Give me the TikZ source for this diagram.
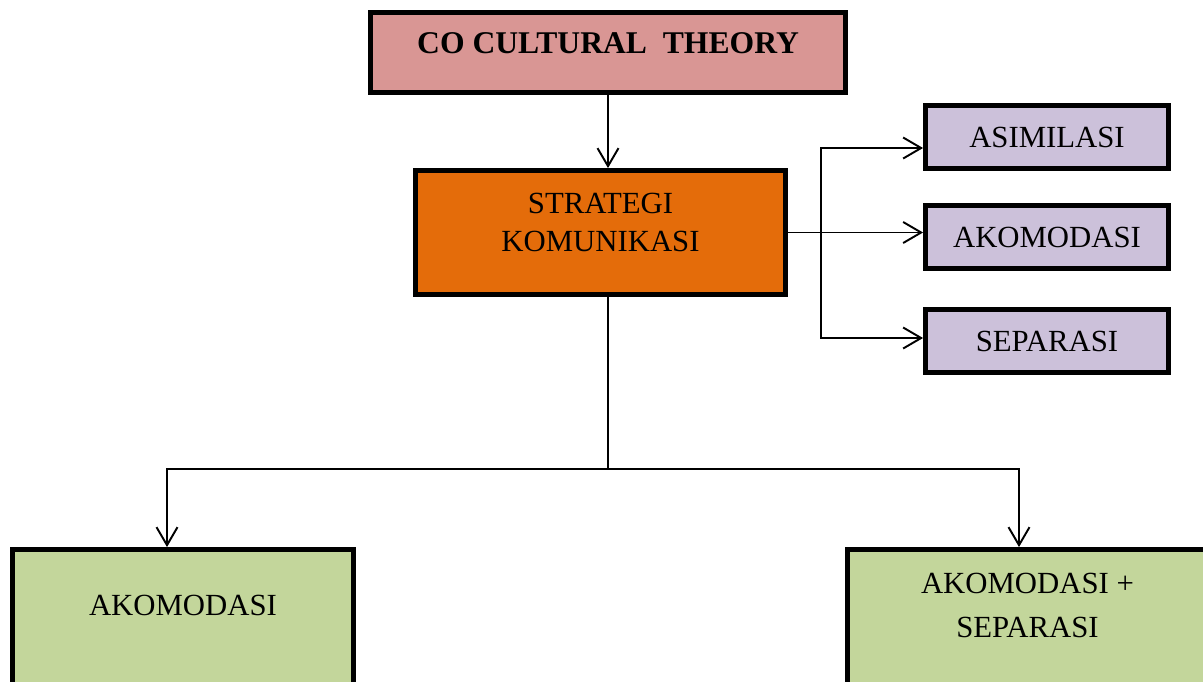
\documentclass[tikz,border=0pt]{standalone}
\usepackage{fontspec}
\setmainfont{Liberation Serif}
\usetikzlibrary{arrows.meta}
\definecolor{titlepink}{HTML}{D99694}
\definecolor{stratorange}{HTML}{E46C0A}
\definecolor{optlilac}{HTML}{CCC1DA}
\definecolor{resgreen}{HTML}{C3D69B}
\tikzset{
  box/.style={draw, line width=2.8pt, align=center},
  link/.style={line width=1.1pt},
  arr/.style={link, -{Straight Barb[length=3.6mm,width=4.2mm,line width=1.1pt]}}
}
\begin{document}
\begin{tikzpicture}[x=0.02cm, y=-0.02cm, font=\fontsize{17.5}{22}\selectfont]
    \useasboundingbox (0,0) rectangle (1203,681);
    \clip (0,0) rectangle (1203,681);

    \node[box, fill=titlepink, minimum width=9.5cm, minimum height=1.6cm,
          font=\fontsize{18}{22}\selectfont\bfseries, text height=0.43cm, text depth=0.4cm]
          (title) at (608,52.5) {CO CULTURAL\ \ THEORY};
    \node[box, fill=stratorange, minimum width=7.4cm, minimum height=2.48cm,
          text height=1.19cm, text depth=0.42cm]
          (strat) at (600.5,232.5) {STRATEGI\\KOMUNIKASI};

    \node[box, fill=optlilac, minimum width=4.86cm, minimum height=1.26cm] (asim) at (1047,137) {ASIMILASI};
    \node[box, fill=optlilac, minimum width=4.86cm, minimum height=1.26cm] (akom) at (1047,237) {AKOMODASI};
    \node[box, fill=optlilac, minimum width=4.86cm, minimum height=1.26cm] (sep) at (1047,341) {SEPARASI};

    \node[box, fill=resgreen, minimum width=6.82cm, minimum height=2.96cm,
          text height=0.41cm, text depth=0.74cm]
          (resakom) at (183,623.5) {AKOMODASI};
    \node[box, fill=resgreen, minimum width=7.2cm, minimum height=2.96cm,
          font=\fontsize{17.5}{25}\selectfont, text height=1.29cm, text depth=0.74cm]
          (resmix) at (1027.5,623.5) {AKOMODASI +\\SEPARASI};

    \draw[arr] (title.south) -- (title.south |- strat.north);

    \draw[link] (strat.east) -- ++(33,0) coordinate (fork);
    \draw[arr] (fork) |- ([yshift=-0.22cm]asim.west);
    \draw[arr] (fork) -- (fork -| akom.west);
    \draw[arr] (fork) |- ([yshift=0.06cm]sep.west);

    \draw[link] (strat.south -| title.south) -- ++(0,172) coordinate (split);
    \draw[arr] (split) -| ([xshift=-0.32cm]resakom.north);
    \draw[arr] (split) -| ([xshift=-0.17cm]resmix.north);
\end{tikzpicture}
\end{document}
